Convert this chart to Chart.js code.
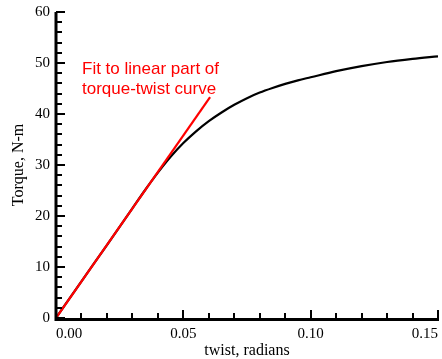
<!DOCTYPE html>
<html>
<head>
<meta charset="utf-8">
<script src="https://cdn.jsdelivr.net/npm/chart.js@4"></script>
<style>
  html, body { margin: 0; padding: 0; background: #fff; }
  canvas { display: block; }
</style>
</head>
<body>
<canvas id="tt" width="442" height="359"></canvas>
<script>
// torque-twist curve
const twist  = [0, 0.01, 0.02, 0.03, 0.035, 0.04, 0.045, 0.05, 0.055, 0.06, 0.065, 0.07, 0.075, 0.08, 0.085, 0.09, 0.095, 0.10, 0.11, 0.12, 0.13, 0.14, 0.15];
const torque = [0, 7.2, 14.3, 21.5, 25.1, 28.5, 31.6, 34.3, 36.6, 38.6, 40.3, 41.8, 43.1, 44.2, 45.1, 45.9, 46.6, 47.2, 48.4, 49.4, 50.2, 50.8, 51.3];

// straight fit to the linear part
const fitTwist  = [0, 0.0605];
const fitTorque = [0, 43.3];

const xTickValues = [0, 0.05, 0.10, 0.15];
const yTickValues = [0, 10, 20, 30, 40, 50, 60];
const xMinorStep = 0.01;
const yMinorStep = 2;

const noteLines = ["Fit to linear part of", "torque-twist curve"];

function toPoints(xs, ys) {
  return xs.map((x, i) => ({ x, y: ys[i] }));
}

// axis lines + inward ticks (major & minor), drawn like the original plot
const frameAxesPlugin = {
  id: "frameAxes",
  afterDatasetsDraw(chart) {
    const { ctx, chartArea: a, scales } = chart;
    const xs = scales.x, ys = scales.y;
    ctx.save();
    ctx.strokeStyle = "#000";
    ctx.lineCap = "butt";

    // minor + major ticks on x
    ctx.lineWidth = 2;
    for (let i = 0; i <= Math.round(0.15 / xMinorStep); i++) {
      const v = i * xMinorStep;
      const px = Math.round(xs.getPixelForValue(v));
      const major = i % 5 === 0;
      const len = major ? 8 : 5;
      ctx.beginPath();
      ctx.moveTo(px, a.bottom);
      ctx.lineTo(px, a.bottom - len);
      ctx.stroke();
    }
    // minor + major ticks on y
    for (let i = 0; i <= Math.round(60 / yMinorStep); i++) {
      const v = i * yMinorStep;
      const py = Math.round(ys.getPixelForValue(v));
      const major = i % 5 === 0;
      const len = major ? 9 : 6;
      ctx.beginPath();
      ctx.moveTo(a.left, py);
      ctx.lineTo(a.left + len, py);
      ctx.stroke();
    }

    // axis lines
    ctx.lineWidth = 3;
    ctx.beginPath();
    ctx.moveTo(a.left, a.top);
    ctx.lineTo(a.left, a.bottom + 1.5);
    ctx.lineTo(a.right + 1, a.bottom + 1.5);
    ctx.stroke();

    // red note
    ctx.fillStyle = "#ff0000";
    ctx.font = "17px 'Liberation Sans', Arial, sans-serif";
    ctx.textAlign = "left";
    ctx.textBaseline = "alphabetic";
    ctx.fillText(noteLines[0], 82, 74);
    ctx.fillText(noteLines[1], 82, 94);
    ctx.restore();
  },
};

const serif = "'Liberation Serif', 'Times New Roman', serif";

new Chart(document.getElementById("tt"), {
  type: "scatter",
  plugins: [frameAxesPlugin],
  data: {
    datasets: [
      {
        label: "fit",
        data: toPoints(fitTwist, fitTorque),
        showLine: true,
        borderColor: "#ff0000",
        borderWidth: 2.2,
        pointRadius: 0,
      },
      {
        label: "torque-twist",
        data: toPoints(twist, torque),
        showLine: true,
        borderColor: "#000",
        borderWidth: 2.2,
        pointRadius: 0,
        cubicInterpolationMode: "monotone",
      },
    ],
  },
  options: {
    responsive: false,
    animation: false,
    devicePixelRatio: 1,
    layout: { padding: { left: 9, right: 4, top: 12, bottom: 0 } },
    plugins: { legend: { display: false }, tooltip: { enabled: false } },
    scales: {
      x: {
        type: "linear",
        min: 0,
        max: 0.15,
        afterBuildTicks: (s) => { s.ticks = xTickValues.map((v) => ({ value: v })); },
        afterFit: (s) => { s.height = 41; s.paddingLeft = 0; s.paddingRight = 0; },
        grid: { display: false, drawTicks: false },
        border: { display: false },
        ticks: {
          align: "inner",
          padding: 7,
          color: "#000",
          font: { family: serif, size: 15 },
          callback: (v) => Number(v).toFixed(2),
        },
        title: {
          display: true,
          text: "twist, radians",
          color: "#000",
          font: { family: serif, size: 16 },
          padding: { top: 0, bottom: -1 },
        },
      },
      y: {
        type: "linear",
        min: 0,
        max: 60,
        afterBuildTicks: (s) => { s.ticks = yTickValues.map((v) => ({ value: v })); },
        afterFit: (s) => { s.width = 47; s.paddingTop = 0; s.paddingBottom = 0; },
        grid: { display: false, drawTicks: false },
        border: { display: false },
        ticks: {
          padding: 6,
          color: "#000",
          font: { family: serif, size: 15 },
        },
        title: {
          display: true,
          text: "Torque, N-m",
          color: "#000",
          font: { family: serif, size: 16 },
          padding: { top: 0, bottom: 0 },
        },
      },
    },
  },
});
</script>
</body>
</html>
